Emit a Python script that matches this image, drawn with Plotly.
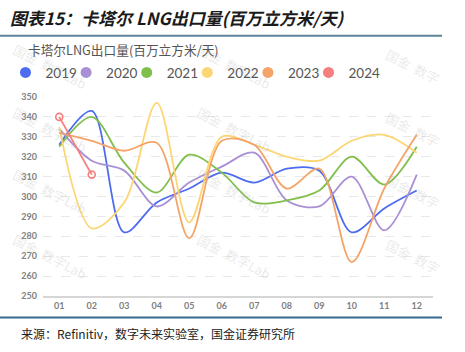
import plotly.graph_objects as go

months = ["01", "02", "03", "04", "05", "06", "07", "08", "09", "10", "11", "12"]
years = ["2019", "2020", "2021", "2022", "2023", "2024"]
v2019 = [326, 343, 282, 297, 304, 312, 307, 314, 313, 282, 294, 303]
v2020 = [334, 318, 313, 295, 307, 315, 322, 298, 295, 310, 283, 311]
v2021 = [325, 340, 317, 302, 321, 312, 297, 298, 303, 320, 306, 325]
v2022 = [335, 284, 297, 347, 287, 330, 326, 320, 318, 328, 331, 322]
v2023 = [332, 328, 323, 327, 279, 328, 326, 304, 314, 267, 304, 331]
v2024 = [340, 311]
series = [v2019, v2020, v2021, v2022, v2023, v2024]
colors = ["#4d6cf0", "#a98fd4", "#80bf4c", "#fcd673", "#f5a468", "#f77e7e"]

y_ticks = [250, 260, 270, 280, 290, 300, 310, 320, 330, 340, 350]

W, H = 465, 352
L, R, T, B = 43, 32, 97, 56
pw, ph = W - L - R, H - T - B


def px_x(px):
    return (px - L) / pw


def px_y(py):
    return (H - B - py) / ph


fig = go.Figure()

for name, vals, c in zip(years, series, colors):
    is_last = name == "2024"
    fig.add_trace(go.Scatter(
        x=months[:len(vals)], y=vals, name=name,
        mode="lines+markers" if is_last else "lines",
        line=dict(color=c, width=1.8, shape="spline", smoothing=0.9),
        marker=dict(symbol="circle-open", size=7, color=c, line=dict(width=1.6, color=c)),
        showlegend=False,
    ))

for name, c in zip(years, colors):
    fig.add_trace(go.Scatter(
        x=[None], y=[None], name=name, mode="markers",
        marker=dict(symbol="circle", size=11, color=c),
        showlegend=True,
    ))
# invisible spacer entry so the last legend label is not clipped
fig.add_trace(go.Scatter(x=[None], y=[None], name=" ", mode="markers",
                         marker=dict(size=1, color="rgba(0,0,0,0)"), showlegend=True))

# watermarks
wm_font = dict(family="Noto Sans CJK SC", size=13, color="rgba(170,170,170,0.26)")
anns = []
for cx, txt in [(50, "国金  数字Lab"), (234, "国金  数字Lab"), (413, "国金  数字")]:
    for cy in [66, 129, 191, 256]:
        anns.append(dict(x=px_x(cx), y=px_y(cy), xref="paper", yref="paper",
                         text=txt, showarrow=False, textangle=27, font=wm_font,
                         xanchor="center", yanchor="middle"))

anns.append(dict(x=px_x(8), y=px_y(18), xref="paper", yref="paper",
                 text="<i><b>图表15：卡塔尔 LNG出口量(百万立方米/天)</b></i>", showarrow=False,
                 xanchor="left", yanchor="middle",
                 font=dict(family="Noto Sans CJK SC", size=17, color="#1a1a1a")))
anns.append(dict(x=px_x(26), y=px_y(50), xref="paper", yref="paper",
                 text="卡塔尔LNG出口量(百万立方米/天)", showarrow=False,
                 xanchor="left", yanchor="middle",
                 font=dict(family="Noto Sans CJK SC", size=12.7, color="#555555")))
anns.append(dict(x=px_x(19), y=px_y(333), xref="paper", yref="paper",
                 text="来源：Refinitiv，数字未来实验室，国金证券研究所", showarrow=False,
                 xanchor="left", yanchor="middle",
                 font=dict(family="Noto Sans CJK SC", size=12, color="#222222")))

shapes = [
    dict(type="line", xref="paper", yref="paper", x0=px_x(0), x1=px_x(442),
         y0=px_y(35.7), y1=px_y(35.7), line=dict(color="#5b8298", width=2)),
    dict(type="line", xref="paper", yref="paper", x0=px_x(0), x1=px_x(442),
         y0=px_y(317.5), y1=px_y(317.5), line=dict(color="#34688f", width=2)),
]

fig.update_layout(
    width=W, height=H,
    margin=dict(l=L, r=R, t=T, b=B, pad=0, autoexpand=False),
    paper_bgcolor="white", plot_bgcolor="white",
    font=dict(family="Lato, Noto Sans CJK SC", color="#555555"),
    showlegend=True,
    legend=dict(orientation="h", x=px_x(5.5), y=px_y(72.7), xanchor="left", yanchor="middle",
                font=dict(family="Lato", size=13.5, color="#555555"),
                entrywidth=15.6, itemwidth=30, bgcolor="rgba(0,0,0,0)",
                tracegroupgap=0),
    annotations=anns,
    shapes=shapes,
    xaxis=dict(type="category", categoryorder="array", categoryarray=months,
               range=[-0.5, 11.5], showgrid=False, zeroline=False,
               showline=True, linecolor="#d6d6d6", linewidth=2,
               ticks="", tickfont=dict(family="Lato", size=9, color="#808080", weight="bold"),
               fixedrange=True),
    yaxis=dict(range=[250, 350], tickvals=y_ticks, showgrid=True,
               gridcolor="#e8e8e8", griddash="dash", gridwidth=1,
               zeroline=False, showline=False, ticks="",
               ticklabelstandoff=5,
               tickfont=dict(family="Lato", size=9, color="#808080", weight="bold")),
)

fig.write_html("out.html")
